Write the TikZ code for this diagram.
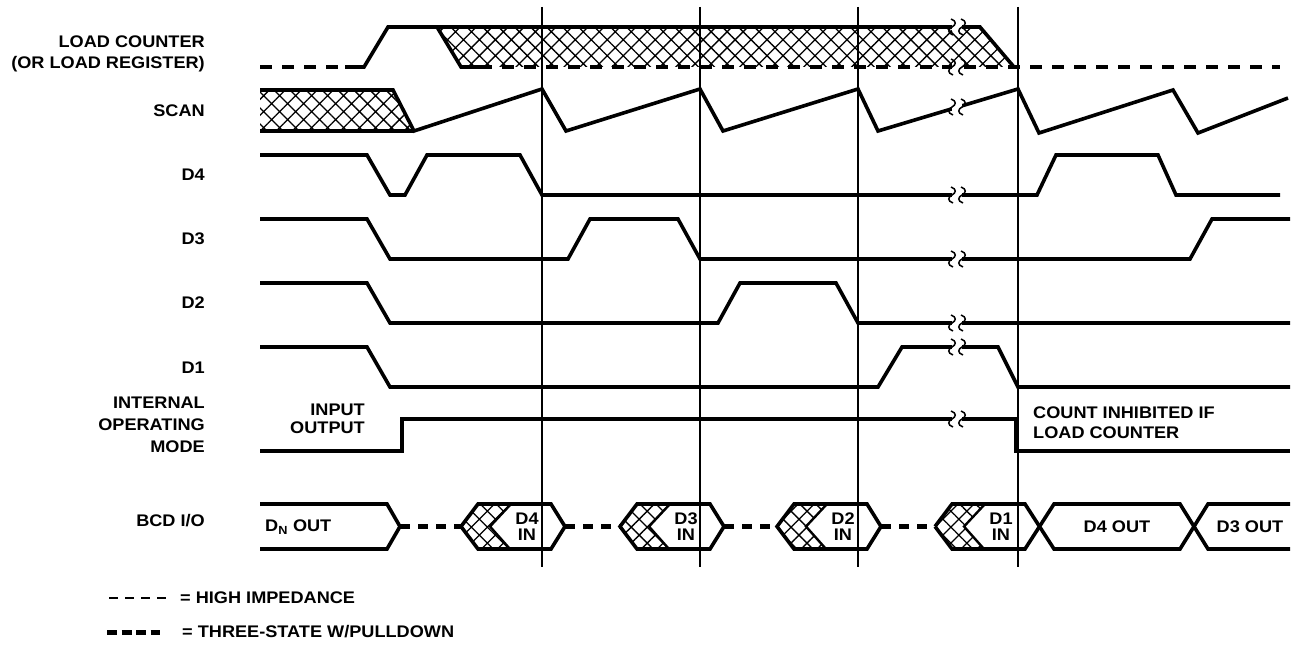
\documentclass[tikz,border=0pt]{standalone}
\usepackage{fontspec}
\newfontfamily\lab{Liberation Sans}[FakeStretch=1.08]
\usetikzlibrary{patterns.meta}
\tikzset{
  sigline/.style={line width=3.6pt,line join=miter,line cap=butt},
  hzline/.style={line width=3.6pt,dash pattern=on 12pt off 10pt},
  pdline/.style={line width=5.5pt,dash pattern=on 10pt off 8pt},
  vline/.style={line width=1.2pt},
  hatchfill/.style={pattern={Hatch[angle=45,distance=11.3pt,line width=1.3pt]}},
  lbl/.style={font=\lab\bfseries\fontsize{16.8}{21}\selectfont,inner sep=0pt},
  brk/.pic={
    \fill[white] (-5,-4) rectangle (5,4);
    \foreach \d in {-5,5}{
      \draw[line width=1.5pt] (\d-1,-8) .. controls (\d+5,-6) and (\d+4,-2) .. (\d,0)
         .. controls (\d-4,2) and (\d-5,6) .. (\d+1,8);
    }
  }
}
\begin{document}
\begin{tikzpicture}[x=1pt,y=-1pt]
\useasboundingbox (0,0) rectangle (1294,647);

% hatched regions
\fill[hatchfill] (437,27) -- (980,27) -- (1014,67) -- (461,67) -- cycle;
\fill[hatchfill] (260,90) -- (393,90) -- (414,131) -- (260,131) -- cycle;

% vertical reference lines
\foreach \x/\n in {542/a,700/b,858/c,1018/d}{
  \coordinate (vt\n) at (\x,7);
  \coordinate (vb\n) at (\x,567);
  \draw[vline] (vt\n) -- (vb\n);
}

% LOAD COUNTER
\draw[hzline] (260,67) -- (345,67);
\draw[sigline] (345,67) -- (364,67) -- (388,27) -- (980,27) -- (1014,67);
\draw[sigline] (437,27) -- (461,67) -- (480,67);
\draw[hzline] (480,67) -- (1280,67);

% SCAN
\draw[sigline] (260,90) -- (393,90) -- (414,131) -- (542,89) -- (566,131) -- (700,89) -- (723,131)
  -- (858,89) -- (878,131) -- (1018,89) -- (1039,133) -- (1173,90) -- (1198,133) -- (1288,98);
\draw[sigline] (260,131) -- (414,131);

% D4..D1
\draw[sigline] (260,155) -- (367,155) -- (390,195) -- (405,195) -- (427,155) -- (520,155) -- (542,195)
  -- (1037,195) -- (1056,155) -- (1158,155) -- (1176,195) -- (1280,195);
\draw[sigline] (260,219) -- (367,219) -- (390,259) -- (568,259) -- (590,219) -- (678,219) -- (700,259)
  -- (1190,259) -- (1212,219) -- (1290,219);
\draw[sigline] (260,283) -- (367,283) -- (390,323) -- (718,323) -- (740,283) -- (836,283) -- (858,323)
  -- (1290,323);
\draw[sigline] (260,347) -- (367,347) -- (390,387) -- (878,387) -- (902,347) -- (998,347) -- (1018,387)
  -- (1290,387);

% INTERNAL OPERATING MODE
\draw[sigline] (260,451) -- (402,451) -- (402,419) -- (1016,419) -- (1016,451) -- (1290,451);

% BCD I/O
\draw[sigline] (260,504) -- (387,504) -- (400,526.5) -- (387,549) -- (260,549);
\foreach \a/\n in {461/4,620/3,777/2}{
  \fill[hatchfill] (\a,526.5) -- (\a+17,504) -- (\a+50,504) -- (\a+29,526.5) -- (\a+49,549) -- (\a+17,549) -- cycle;
  \draw[line width=2.4pt] (\a+50,504) -- (\a+29,526.5) -- (\a+49,549);
  \draw[sigline] (\a,526.5) -- (\a+17,504) -- (\a+90,504) -- (\a+104,526.5) -- (\a+90,549) -- (\a+17,549) -- cycle;
  \node[lbl,align=center,font=\lab\bfseries\fontsize{16.8}{16}\selectfont] (in\n) at (\a+66,526.5) {D\n\\IN};
}
\fill[hatchfill] (935,526.5) -- (952,504) -- (985,504) -- (964,526.5) -- (984,549) -- (952,549) -- cycle;
\draw[line width=2.4pt] (985,504) -- (964,526.5) -- (984,549);
\draw[sigline] (935,526.5) -- (952,504) -- (1025,504) -- (1054,549) -- (1180,549) -- (1208,504) -- (1290,504);
\draw[sigline] (935,526.5) -- (952,549) -- (1025,549) -- (1054,504) -- (1180,504) -- (1208,549) -- (1290,549);
\node[lbl,align=center,font=\lab\bfseries\fontsize{16.8}{16}\selectfont] (in1) at (1001,526.5) {D1\\IN};
\foreach \s/\e in {400/461,565/620,724/777,881/935}{
  \draw[pdline] (\s,526.5) -- (\e,526.5);
}

% break marks
\foreach \y in {27,67,107,195,259,323,347,419}{
  \pic at (957,\y) {brk};
}

% labels
\node[lbl,align=right,anchor=east] (llc) at (205,53.5) {LOAD COUNTER\\(OR LOAD REGISTER)};
\node[lbl,anchor=east] (lscan) at (205,111) {SCAN};
\node[lbl,anchor=east] (ld4) at (205,175) {D4};
\node[lbl,anchor=east] (ld3) at (205,239) {D3};
\node[lbl,anchor=east] (ld2) at (205,303) {D2};
\node[lbl,anchor=east] (ld1) at (205,368) {D1};
\node[lbl,align=right,anchor=east,font=\lab\bfseries\fontsize{16.8}{22}\selectfont] (lmode) at (205,425) {INTERNAL\\OPERATING\\MODE};
\node[lbl,anchor=east] (lbcd) at (205,521) {BCD I/O};
\node[lbl,align=right,anchor=east,font=\lab\bfseries\fontsize{16.8}{18}\selectfont] (lio) at (365,419) {INPUT\\OUTPUT};
\node[lbl,align=left,anchor=west,font=\lab\bfseries\fontsize{16.8}{20}\selectfont] (lcnt) at (1033,423) {COUNT INHIBITED IF\\LOAD COUNTER};
\node[lbl,anchor=west] (ldn) at (265,527) {D\textsubscript{N} OUT};
\node[lbl] (ld4o) at (1117,527) {D4 OUT};
\node[lbl] (ld3o) at (1250,527) {D3 OUT};

% legend
\coordinate (lg1a) at (109,598);
\coordinate (lg1b) at (170,598);
\draw[line width=2.6pt,dash pattern=on 9pt off 7pt] (lg1a) -- (lg1b);
\node[lbl,anchor=west] (lgt1) at (180,598) {= HIGH IMPEDANCE};
\coordinate (lg2a) at (107,632);
\coordinate (lg2b) at (160,632);
\draw[line width=5pt,dash pattern=on 10pt off 4.5pt] (lg2a) -- (lg2b);
\node[lbl,anchor=west] (lgt2) at (182,632) {= THREE-STATE W/PULLDOWN};
\end{tikzpicture}
\end{document}
